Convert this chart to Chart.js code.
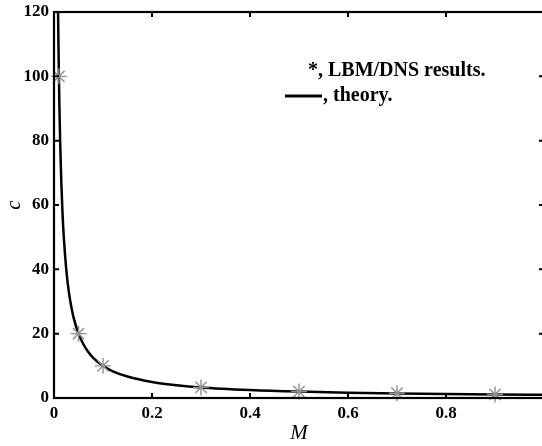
<!DOCTYPE html>
<html><head><meta charset="utf-8">
<script src="https://cdn.jsdelivr.net/npm/chart.js@4/dist/chart.umd.min.js"></script>
<style>html,body{margin:0;padding:0;overflow:hidden;background:#fff}#wrap{width:546px;height:446px}</style>
</head><body><div id="wrap"><canvas id="c" width="546" height="446"></canvas></div>
<script>
const simM = [0.01, 0.05, 0.1, 0.3, 0.5, 0.7, 0.9];
const simC = [100, 20, 10, 3.3, 2, 1.5, 1.1];
const theoryM = [0.0083, 0.009, 0.01, 0.011, 0.0125, 0.015, 0.0175, 0.02, 0.025, 0.03, 0.035, 0.04, 0.05, 0.06, 0.07, 0.08, 0.1, 0.12, 0.15, 0.2, 0.25, 0.3, 0.4, 0.5, 0.6, 0.7, 0.8, 0.9, 1.0];
const theoryC = [120, 111, 100, 91, 80, 66.7, 57, 50, 40, 33.3, 28.6, 25, 20, 16.7, 14.3, 12.5, 10, 8.3, 6.7, 5, 4, 3.3, 2.5, 2, 1.67, 1.43, 1.25, 1.11, 1.0];
const xTicks = [0, 0.2, 0.4, 0.6, 0.8, 1];
const yTicks = [0, 20, 40, 60, 80, 100, 120];
const legendSim = '*, LBM/DNS results.';
const legendTheory = ', theory.';

const framePlugin = {
  id: 'frame',
  afterDraw(chart) {
    const ctx = chart.ctx, a = chart.chartArea;
    const xs = chart.scales.x, ys = chart.scales.y;
    ctx.save();
    ctx.strokeStyle = '#000';
    ctx.lineWidth = 2.2;
    ctx.strokeRect(a.left, a.top, a.right - a.left, a.bottom - a.top);
    ctx.lineWidth = 2;
    const L = 5;
    xTicks.forEach(v => {
      const px = xs.getPixelForValue(v);
      ctx.beginPath();
      ctx.moveTo(px, a.bottom); ctx.lineTo(px, a.bottom - L);
      ctx.moveTo(px, a.top); ctx.lineTo(px, a.top + L);
      ctx.stroke();
    });
    yTicks.forEach(v => {
      const py = ys.getPixelForValue(v);
      ctx.beginPath();
      ctx.moveTo(a.left, py); ctx.lineTo(a.left + L, py);
      ctx.moveTo(a.right, py); ctx.lineTo(a.right - L, py);
      ctx.stroke();
    });
    ctx.fillStyle = '#000';
    ctx.font = 'bold 20px "Liberation Serif"';
    ctx.textBaseline = 'alphabetic';
    ctx.textAlign = 'left';
    ctx.fillText(legendSim, 308, 76);
    ctx.fillText(legendTheory, 323, 101);
    ctx.lineWidth = 2.8;
    ctx.beginPath(); ctx.moveTo(285, 96); ctx.lineTo(322, 96); ctx.stroke();
    ctx.restore();
  }
};

new Chart(document.getElementById('c'), {
  type: 'scatter',
  data: {
    datasets: [
      {
        label: 'theory',
        data: theoryM.map((m, i) => ({x: m, y: theoryC[i]})),
        showLine: true,
        borderColor: '#000',
        borderWidth: 2.5,
        pointRadius: 0,
        cubicInterpolationMode: 'monotone',
        order: 2
      },
      {
        label: 'LBM/DNS',
        data: simM.map((m, i) => ({x: m, y: simC[i]})),
        showLine: false,
        pointStyle: 'star',
        pointRadius: 8,
        borderColor: '#909090',
        backgroundColor: '#909090',
        borderWidth: 1.4,
        order: 1
      }
    ]
  },
  options: {
    responsive: false,
    animation: false,
    clip: false,
    layout: {padding: {left: 2}, autoPadding: false},
    plugins: {legend: {display: false}, tooltip: {enabled: false}},
    scales: {
      x: {
        type: 'linear', min: 0, max: 1,
        afterBuildTicks: s => { s.ticks = xTicks.map(v => ({value: v})); },
        afterFit: s => { s.height = 48; s.paddingLeft = 0; s.paddingRight = 0; },
        grid: {display: false, drawTicks: false},
        border: {display: false},
        ticks: {
          padding: 5, color: '#000', maxRotation: 0,
          font: {family: '"Liberation Serif"', size: 17, weight: 'bold'},
          callback: v => v === 1 ? '' : String(v)
        },
        title: {display: true, text: 'M', color: '#000', padding: {top: 0, bottom: 0},
          font: {family: '"Liberation Serif"', size: 21, style: 'italic'}}
      },
      y: {
        type: 'linear', min: 0, max: 120,
        afterBuildTicks: s => { s.ticks = yTicks.map(v => ({value: v})); },
        afterFit: s => { s.width = 52; s.paddingTop = 0; s.paddingBottom = 0; },
        grid: {display: false, drawTicks: false},
        border: {display: false},
        ticks: {
          padding: 5, color: '#000',
          font: {family: '"Liberation Serif"', size: 17, weight: 'bold'}
        },
        title: {display: true, text: 'c', color: '#000', padding: {top: 0, bottom: 2},
          font: {family: '"Liberation Serif"', size: 21, style: 'italic'}}
      },
      xTop: {
        type: 'linear', position: 'top', min: 0, max: 1,
        afterFit: s => { s.height = 12; s.paddingLeft = 0; s.paddingRight = 0; },
        grid: {display: false, drawTicks: false},
        border: {display: false},
        ticks: {display: false}
      },
      yRight: {
        type: 'linear', position: 'right', min: 0, max: 120,
        afterFit: s => { s.width = 2; s.paddingTop = 0; s.paddingBottom = 0; },
        grid: {display: false, drawTicks: false},
        border: {display: false},
        ticks: {display: false}
      }
    }
  },
  plugins: [framePlugin]
});
</script>
</body></html>
